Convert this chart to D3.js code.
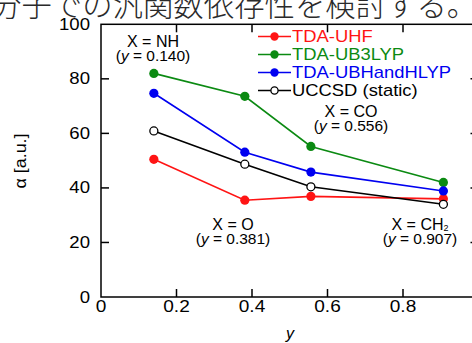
<!DOCTYPE html>
<html>
<head>
<meta charset="utf-8">
<script src="https://cdn.jsdelivr.net/npm/d3@7"></script>
<style>
  body { margin: 0; background: #fff; }
  svg { display: block; }
</style>
</head>
<body>
<svg id="chart" width="472" height="343"></svg>
<script>
// values
const yValues = [0.140, 0.381, 0.556, 0.907]
const seriesNames = ['TDA-UHF', 'TDA-UB3LYP', 'TDA-UBHandHLYP', 'UCCSD (static)']
const uhf = [50.5, 35.5, 36.9, 36.0]
const ub3lyp = [82.0, 73.6, 55.2, 42.0]
const ubhandhlyp = [74.7, 53.1, 45.8, 38.9]
const uccsd = [60.9, 48.7, 40.4, 34.0]
const xTicks = [0, 0.2, 0.4, 0.6, 0.8]
const yTicks = [0, 20, 40, 60, 80, 100]
const labels = [
  { top: 'X = NH', y: '0.140' },
  { top: 'X = O', y: '0.381' },
  { top: 'X = CO', y: '0.556' },
  { top: 'X = CH', sub: '2', y: '0.907' }
]

const width = 472
const height = 343
const svg = d3.select('#chart')
const font = 'Liberation Sans, Arial, Helvetica, sans-serif'

const x = d3.scaleLinear().domain([0, 1]).range([101, 478.5])
const y = d3.scaleLinear().domain([0, 100]).range([297, 24.3])

// cropped caption line above the plot
svg.append('text')
  .attr('x', -9)
  .attr('y', 16)
  .style('font-family', 'Noto Sans CJK JP')
  .style('font-weight', 300)
  .style('font-size', '30.4px')
  .style('fill', '#2a2a2a')
  .text('分子での汎関数依存性を検討する。')

function label(g, px, py, str, opts = {}) {
  const t = g.append('text')
    .attr('transform', `translate(${px},${py}) scale(${opts.sx || 1},1)`)
    .attr('text-anchor', opts.anchor || 'middle')
    .style('font-family', font)
    .style('font-size', (opts.size || 16) + 'px')
    .style('fill', opts.color || '#000')
  if (opts.italic) t.style('font-style', 'italic')
  t.text(str)
  return t
}

// frame
const frame = svg.append('g').attr('stroke', '#000').attr('stroke-width', 1.5).attr('fill', 'none')
frame.append('rect')
  .attr('x', x(0)).attr('y', y(100))
  .attr('width', x(1) - x(0)).attr('height', y(0) - y(100))

const tickLen = 8
xTicks.slice(1).forEach(v => {
  frame.append('line').attr('x1', x(v)).attr('x2', x(v)).attr('y1', y(0)).attr('y2', y(0) - tickLen)
  frame.append('line').attr('x1', x(v)).attr('x2', x(v)).attr('y1', y(100)).attr('y2', y(100) + tickLen)
})
yTicks.slice(1, -1).forEach(v => {
  frame.append('line').attr('x1', x(0)).attr('x2', x(0) + tickLen).attr('y1', y(v)).attr('y2', y(v))
  frame.append('line').attr('x1', x(1)).attr('x2', x(1) - tickLen).attr('y1', y(v)).attr('y2', y(v))
})

const ticks = svg.append('g')
xTicks.forEach(v => {
  label(ticks, x(v), 311.5, v === 0 ? '0' : d3.format('.1f')(v), { size: 16.3, sx: 1.17 })
})
yTicks.forEach(v => {
  label(ticks, 90, y(v) + 5.5, String(v), { size: 16.3, sx: 1.14, anchor: 'end' })
})

// axis titles
label(svg, 290, 338.5, 'y', { italic: true, size: 16 })
svg.append('text')
  .attr('transform', 'translate(26,161) rotate(-90) scale(1.12,1)')
  .attr('text-anchor', 'middle')
  .style('font-family', font)
  .style('font-size', '16px')
  .text('α [a.u.]')

// series
const series = [
  { name: seriesNames[0], values: uhf, color: '#ff1414', open: false },
  { name: seriesNames[1], values: ub3lyp, color: '#0b8a12', open: false },
  { name: seriesNames[2], values: ubhandhlyp, color: '#0000f0', open: false },
  { name: seriesNames[3], values: uccsd, color: '#000', open: true }
]

const line = d3.line().x((d, i) => x(yValues[i])).y(d => y(d))

const plot = svg.append('g')
series.forEach(s => {
  plot.append('path')
    .datum(s.values)
    .attr('d', line)
    .attr('fill', 'none')
    .attr('stroke', s.color)
    .attr('stroke-width', 1.6)
  plot.selectAll(null)
    .data(s.values)
    .join('circle')
    .attr('cx', (d, i) => x(yValues[i]))
    .attr('cy', d => y(d))
    .attr('r', s.open ? 4 : 4.6)
    .attr('fill', s.open ? '#fff' : s.color)
    .attr('stroke', s.color)
    .attr('stroke-width', s.open ? 1.3 : 0)
})

// legend
const legend = svg.append('g')
series.forEach((s, i) => {
  const ly = 36.5 + i * 18
  legend.append('line')
    .attr('x1', 258).attr('x2', 291).attr('y1', ly).attr('y2', ly)
    .attr('stroke', s.color).attr('stroke-width', 1.6)
  legend.append('circle')
    .attr('cx', 274.5).attr('cy', ly)
    .attr('r', s.open ? 3.6 : 4.2)
    .attr('fill', s.open ? '#fff' : s.color)
    .attr('stroke', s.color)
    .attr('stroke-width', s.open ? 1.3 : 0)
  label(legend, 292, ly + 5.8, s.name, { anchor: 'start', size: 16, sx: 1.15, color: s.open ? '#000' : s.color })
})

// molecule annotations
const annPos = [[153, 46.5], [233, 229.5], [351, 116.5], [420, 229.5]]
labels.forEach((d, i) => {
  const [ax, ay] = annPos[i]
  const t = label(svg, ax, ay, d.top, { size: 16 })
  if (d.sub) {
    t.append('tspan').attr('font-size', '9px').attr('dy', 1).text(d.sub)
  }
  const t2 = svg.append('text')
    .attr('x', ax).attr('y', ay + 14.5)
    .attr('text-anchor', 'middle')
    .style('font-family', font)
    .style('font-size', '15.5px')
  t2.append('tspan').text('(')
  t2.append('tspan').style('font-style', 'italic').text('y')
  t2.append('tspan').text(' = ' + d.y + ')')
})
</script>
</body>
</html>
